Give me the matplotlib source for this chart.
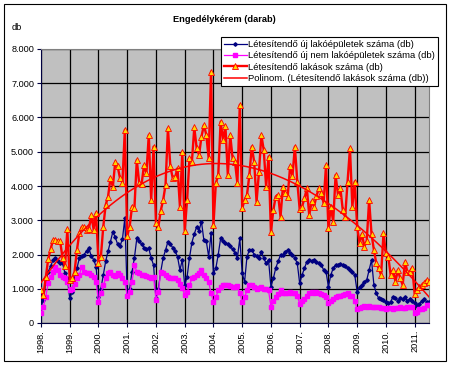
import numpy as np
import matplotlib.pyplot as plt
from matplotlib.patches import Rectangle
from matplotlib.ticker import FuncFormatter

plt.rcParams['font.family'] = ['Liberation Sans', 'DejaVu Sans']

# monthly values, Jan 1998 - Jul 2011
evek = [f'{y}.' for y in range(1998, 2012)]

lakoepulet = [
    480, 670, 1170, 1500, 1650, 1840, 1900, 1800, 1750, 1745, 1450, 1300,
    720, 900, 1300, 1600, 1890, 1950, 2000, 2100, 2180, 1950, 1850, 1645,
    770, 1000, 1400, 1800, 2100, 2375, 2665, 2500, 2300, 2250, 2450, 3060,
    820, 1000, 1500, 1900, 2470, 2400, 2300, 2200, 2150, 2180, 1900, 1690,
    720, 1000, 1500, 1900, 2130, 2375, 2300, 2200, 2100, 1935, 1550, 1840,
    1100, 1350, 1900, 2350, 2600, 2810, 2700, 2960, 2420, 2400, 1935, 2620,
    1450, 1600, 2000, 2470, 2400, 2350, 2300, 2250, 2150, 2050, 1900, 2470,
    1450, 1200, 1935, 2130, 2130, 2000, 1950, 1900, 2080, 1890, 1745, 1840,
    1060, 1300, 1600, 1800, 1985, 2000, 2080, 2130, 2050, 2000, 1890, 1745,
    1160, 1400, 1600, 1790, 1840, 1800, 1850, 1780, 1750, 1700, 1550, 1500,
    1060, 1400, 1600, 1690, 1700, 1720, 1690, 1650, 1600, 1550, 1500, 1400,
    915, 1050, 1100, 1200, 1255, 1550, 1840, 1110, 870, 720, 700, 670,
    600, 575, 620, 770, 720, 650, 720, 700, 750, 650, 700, 650,
    575, 500, 550, 650, 700, 620, 600,
]

nem_lakoepulet = [
    285, 480, 770, 1160, 1350, 1500, 1645, 1550, 1400, 1350, 1300, 1210,
    965, 1000, 1150, 1300, 1400, 1645, 1500, 1450, 1450, 1400, 1350, 1200,
    620, 870, 1100, 1300, 1450, 1500, 1400, 1380, 1450, 1400, 1300, 1200,
    790, 900, 1200, 1690, 1500, 1450, 1400, 1400, 1380, 1350, 1300, 1350,
    670, 900, 1500, 1450, 1400, 1350, 1300, 1300, 1300, 1250, 1150, 1010,
    820, 900, 1100, 1300, 1350, 1400, 1450, 1550, 1400, 1300, 1200, 870,
    620, 750, 950, 1050, 1100, 1100, 1100, 1080, 1050, 1050, 1080, 870,
    620, 750, 950, 1110, 1100, 1050, 1000, 1020, 1050, 1000, 1000, 950,
    480, 650, 770, 850, 965, 870, 880, 870, 900, 880, 870, 800,
    555, 650, 700, 800, 870, 900, 870, 900, 880, 860, 830, 750,
    575, 650, 700, 750, 780, 800, 820, 850, 870, 800, 780, 650,
    400, 450, 480, 500, 480, 500, 480, 480, 470, 460, 450, 430,
    420, 430, 450, 420, 440, 450, 460, 440, 450, 460, 480, 470,
    285, 330, 400, 420, 450, 520, 525,
]

lakasok = [
    960, 820, 1350, 1860, 2150, 2420, 2430, 2400, 2380, 1900, 1650, 2730,
    1250, 1300, 1490, 2130, 2620, 2800, 2800, 2720, 2750, 3150, 2720, 3220,
    1750, 1935, 2810, 3445, 3690, 4230, 3980, 4710, 4570, 4225, 4100, 5640,
    2540, 2810, 3400, 3350, 4760, 4080, 4050, 4610, 4370, 5490, 3590, 5150,
    2910, 2810, 3280, 3590, 4030, 5690, 4570, 4230, 4250, 4520, 3400, 5000,
    2700, 3590, 4810, 4700, 5710, 5100, 4910, 5440, 5780, 5500, 4810, 7340,
    2860, 4080, 4320, 5880, 5340, 5750, 4320, 5490, 4810, 4700, 4080, 6370,
    3350, 3590, 3740, 4320, 5150, 4710, 3540, 4400, 5490, 5050, 3980, 4860,
    2650, 3300, 3690, 3740, 3100, 3980, 3790, 3690, 4570, 4300, 5150, 4130,
    3320, 3400, 3640, 3930, 3150, 3550, 3400, 3700, 3930, 3800, 3500, 4610,
    2770, 3400, 2960, 4320, 3740, 3930, 3300, 3100, 4130, 5100, 3400, 4130,
    2810, 2330, 2600, 2230, 2400, 3590, 2600, 2130, 1740, 1600, 1400, 2620,
    2030, 1935, 1400, 1550, 1210, 1550, 1300, 1110, 1790, 1480, 1500, 1620,
    850, 950, 1050, 1110, 1160, 1255, 1200,
]

x = np.arange(len(lakasok))
trend = np.polyval(np.polyfit(x, lakasok, 3), x)

W, H = 450, 365
fig = plt.figure(figsize=(W / 100, H / 100), dpi=100)
fig.patches.append(Rectangle((4 / W, 1 - 361 / H), 442 / W, 357 / H,
                             transform=fig.transFigure, fill=False,
                             edgecolor='black', lw=0.8))

ax = fig.add_axes([41 / W, 1 - 323 / H, (429 - 41) / W, (323 - 49) / H])
ax.set_facecolor('#c0c0c0')

ax.plot(x, lakoepulet, color='#000080', lw=0.9, marker='D', ms=1.8,
        label='Létesítendő új lakóépületek száma (db)', zorder=3)
ax.plot(x, nem_lakoepulet, color='#ff00ff', lw=0.9, marker='s', ms=2.6,
        label='Létesítendő új nem lakóépületek száma (db)', zorder=3)
ax.plot(x, lakasok, color='#ff0000', lw=1.7, marker='^', ms=4,
        mfc='#ffd700', mec='#ff0000', mew=0.6,
        label='Létesítendő lakások száma (db)', zorder=4)
ax.plot(x, trend, color='#ff0000', lw=1.1,
        label='Polinom. (Létesítendő lakások száma (db))', zorder=5)

ax.set_xlim(0, len(lakasok) - 1)
ax.set_ylim(0, 8000)
ax.set_yticks(np.arange(0, 8001, 1000))
ax.yaxis.set_major_formatter(FuncFormatter(lambda v, p: f'{int(v):,}'.replace(',', '.')))
ax.set_xticks(np.arange(0, len(lakasok), 12))
ax.set_xticklabels(evek, rotation=90)
ax.tick_params(labelsize=6.6, length=3, width=0.8, color='#000040', pad=2)
ax.grid(True, color='black', lw=0.9)
ax.set_axisbelow(True)
for s in ['left', 'bottom']:
    ax.spines[s].set_color('#000040')
for s in ['top', 'right']:
    ax.spines[s].set_color('#808080')

fig.text(224 / W, 1 - 19 / H, 'Engedélykérem (darab)', ha='center', va='center',
         fontsize=6.7, fontweight='bold')
fig.text(12 / W, 1 - 28 / H, 'db', ha='left', va='center', fontsize=6.7)

leg = ax.legend(loc='upper left', bbox_to_anchor=(221 / W, 1 - 37 / H),
                bbox_transform=fig.transFigure, fontsize=6.8, frameon=True,
                fancybox=False, edgecolor='black', framealpha=1,
                borderpad=0.3, labelspacing=0.25, handlelength=2.4,
                handletextpad=0.2, borderaxespad=0)
leg.get_frame().set_linewidth(0.8)
leg.set_zorder(10)

fig.savefig('out.png', dpi=100)
